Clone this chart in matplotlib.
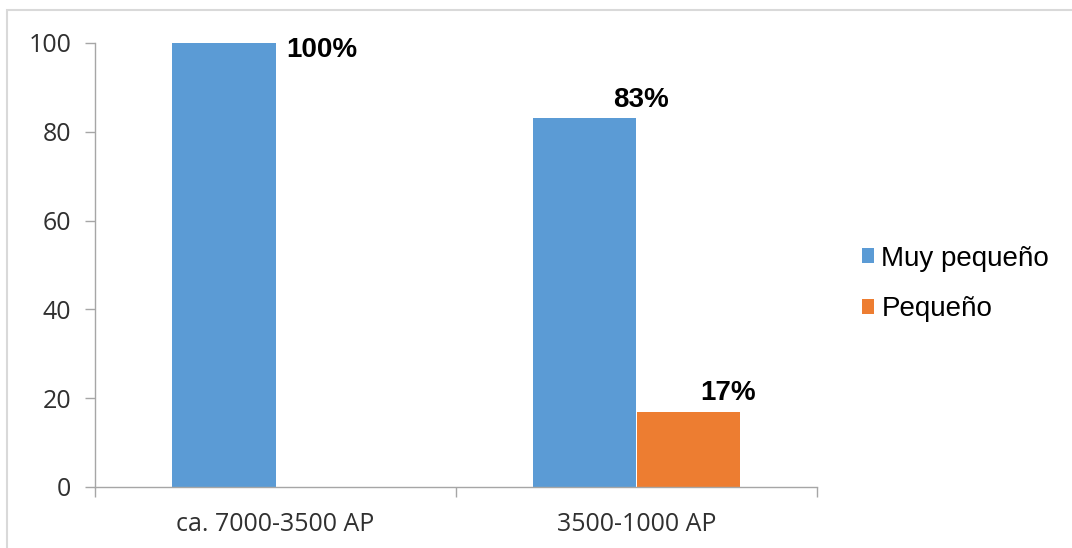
import matplotlib
matplotlib.use("Agg")
import matplotlib.pyplot as plt
from matplotlib.patches import Rectangle, Patch
import numpy as np

categories = ["ca. 7000-3500 AP", "3500-1000 AP"]
series_names = ["Muy pequeño", "Pequeño"]
muy_pequeno = [100, 83]
pequeno = [None, 17]
y_ticks = [0, 20, 40, 60, 80, 100]

blue = "#5B9BD5"
orange = "#ED7D31"
axis_gray = "#A6A6A6"

fig = plt.figure(figsize=(10.72, 5.48), dpi=100)
fig.patch.set_facecolor("white")
# outer frame
fig.patches.append(Rectangle((7 / 1072, -0.05), 1.1, (548 - 10) / 548 + 0.05,
                             transform=fig.transFigure, fill=False,
                             edgecolor="#D9D9D9", linewidth=1.5))

ax = fig.add_axes([95 / 1072, 61 / 548, (817 - 95) / 1072, (487 - 43) / 548])
x = np.arange(len(categories))
w = 0.286

ax.bar(x - w / 2, muy_pequeno, width=w, color=blue, linewidth=0)
p_idx = [i for i, v in enumerate(pequeno) if v is not None]
p_vals = [pequeno[i] for i in p_idx]
ax.bar(x[p_idx] + w / 2, p_vals, width=w, color=orange, linewidth=0)

ax.set_xlim(-0.5, 1.5)
ax.set_ylim(0, 100)
ax.set_yticks(y_ticks)
ax.set_xticks(x)
ax.set_xticklabels(categories)
ax.set_xticks([-0.5, 0.5, 1.5], minor=True)

for lbl in ax.get_yticklabels() + ax.get_xticklabels():
    lbl.set_fontfamily("Open Sans")
    lbl.set_fontsize(18)
    lbl.set_color("#303030")

ax.tick_params(axis="y", length=7, width=1, color=axis_gray, pad=10)
ax.tick_params(axis="x", which="major", length=0, pad=18)
ax.tick_params(axis="x", which="minor", length=7, width=1, color=axis_gray)
for s in ["top", "right"]:
    ax.spines[s].set_visible(False)
for s in ["left", "bottom"]:
    ax.spines[s].set_color(axis_gray)
    ax.spines[s].set_linewidth(1)

label_font = dict(family="Liberation Sans", weight="bold", size=20, color="black",
                  ha="center", va="center")
# value labels
ax.annotate(f"{muy_pequeno[0]}%", xy=(x[0] - w / 2, muy_pequeno[0]),
            xytext=(98, -7), textcoords="offset pixels", **label_font)
ax.annotate(f"{muy_pequeno[1]}%", xy=(x[1] - w / 2, muy_pequeno[1]),
            xytext=(56, 18), textcoords="offset pixels", **label_font)
ax.annotate(f"{pequeno[1]}%", xy=(x[1] + w / 2, pequeno[1]),
            xytext=(40, 19), textcoords="offset pixels", **label_font)

handles = [Patch(facecolor=blue, label=series_names[0]),
           Patch(facecolor=orange, label=series_names[1])]
fig.legend(handles=handles, loc="center left", bbox_to_anchor=(848 / 1072, 1 - 284 / 548),
           frameon=False, prop=dict(family="Liberation Sans", size=20),
           handlelength=0.45, handleheight=0.45, handletextpad=0.25,
           labelspacing=0.9, borderpad=0, borderaxespad=0.5)

fig.savefig("out.png", dpi=100, facecolor="white")
